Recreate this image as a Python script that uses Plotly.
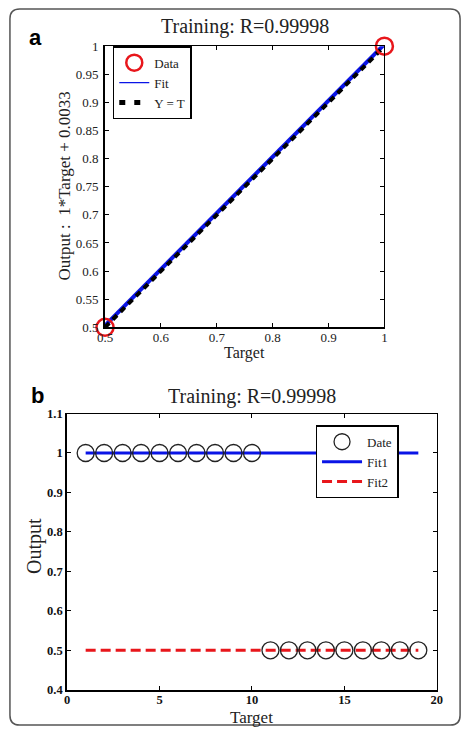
import plotly.graph_objects as go

W, H = 469, 735

def X(px):
    return px / W

def Y(py):
    return 1 - py / H

# ---------------- data ----------------
# panel a
a_data_target = [0.5, 1.0]
a_data_output = [0.5, 1.0]
a_fit_target = [0.5, 1.0]
a_fit_output = [0.5033, 1.0033]
a_yt_target = [0.5, 1.0]
a_yt_output = [0.5, 1.0]
a_xticks = [0.5, 0.6, 0.7, 0.8, 0.9, 1.0]
a_yticks = [0.5, 0.55, 0.6, 0.65, 0.7, 0.75, 0.8, 0.85, 0.9, 0.95, 1.0]

# panel b
b_target = [1, 2, 3, 4, 5, 6, 7, 8, 9, 10, 11, 12, 13, 14, 15, 16, 17, 18, 19]
b_output = [1, 1, 1, 1, 1, 1, 1, 1, 1, 1, 0.5, 0.5, 0.5, 0.5, 0.5, 0.5, 0.5, 0.5, 0.5]
b_fit1_x = [1, 19]
b_fit1_y = [1, 1]
b_fit2_x = [1, 19]
b_fit2_y = [0.5, 0.5]
b_xticks = [0, 5, 10, 15, 20]
b_yticks = [0.4, 0.5, 0.6, 0.7, 0.8, 0.9, 1.0, 1.1]

SERIF = "Liberation Serif"
BLUE = "#0a14e6"
RED = "#e8161b"

fig = go.Figure()

# ---- panel a traces ----
fig.add_trace(go.Scatter(x=a_fit_target, y=a_fit_output, mode="lines", name="Fit",
                         line=dict(color=BLUE, width=4), showlegend=False,
                         xaxis="x", yaxis="y", cliponaxis=False))
fig.add_trace(go.Scatter(x=a_yt_target, y=a_yt_output, mode="lines", name="Y = T",
                         line=dict(color="black", width=4, dash="6px,5px"), showlegend=False,
                         xaxis="x", yaxis="y", cliponaxis=False))
fig.add_trace(go.Scatter(x=a_data_target, y=a_data_output, mode="markers", name="Data",
                         marker=dict(symbol="circle-open", size=17, color=RED,
                                     line=dict(width=2.5, color=RED)),
                         legend="legend", legendrank=1, xaxis="x", yaxis="y", cliponaxis=False))
# legend-only entries (thin line styles as in the reference legend)
fig.add_trace(go.Scatter(x=[None], y=[None], mode="lines", name="Fit",
                         line=dict(color=BLUE, width=1.3), legend="legend", legendrank=2,
                         xaxis="x", yaxis="y"))
fig.add_trace(go.Scatter(x=[None], y=[None], mode="lines", name="Y = T",
                         line=dict(color="black", width=5, dash="6px,9px"), legend="legend",
                         legendrank=3, xaxis="x", yaxis="y"))

# ---- panel b traces ----
fig.add_trace(go.Scatter(x=b_fit1_x, y=b_fit1_y, mode="lines", name="Fit1",
                         line=dict(color=BLUE, width=3), legend="legend2", legendrank=2,
                         xaxis="x2", yaxis="y2"))
fig.add_trace(go.Scatter(x=b_fit2_x, y=b_fit2_y, mode="lines", name="Fit2",
                         line=dict(color=RED, width=3, dash="10px,5px"), legend="legend2",
                         legendrank=3, xaxis="x2", yaxis="y2"))
fig.add_trace(go.Scatter(x=b_target, y=b_output, mode="markers", name="Date",
                         marker=dict(symbol="circle-open", size=17, color="#222",
                                     line=dict(width=1.3, color="#222")),
                         legend="legend2", legendrank=1, xaxis="x2", yaxis="y2", cliponaxis=False))

# helper traces for mirror (top/right) axes
for xa, ya in [("x3", "y"), ("x", "y3"), ("x4", "y2"), ("x2", "y4")]:
    fig.add_trace(go.Scatter(x=[None], y=[None], xaxis=xa, yaxis=ya, showlegend=False,
                             hoverinfo="skip", mode="lines"))

a_xdom = [X(100), X(388)]
a_ydom = [Y(327), Y(40)]
b_xdom = [X(61), X(442)]
b_ydom = [Y(697), Y(415)]

base = dict(showgrid=False, zeroline=False, showline=True, linecolor="black",
            ticks="inside", ticklen=4, tickcolor="black", tickwidth=1)
a_font = dict(family=SERIF, size=13, color="#222")
b_font = dict(family=SERIF, size=12.5, color="#111", weight="bold")

fig.update_layout(
    width=W, height=H, margin=dict(l=0, r=0, t=0, b=0),
    paper_bgcolor="white", plot_bgcolor="white",
    xaxis=dict(base, domain=a_xdom, range=[0.5, 1.0], anchor="y", tickvals=a_xticks,
               linewidth=2, tickfont=a_font, ticklabelstandoff=-3),
    yaxis=dict(base, domain=a_ydom, range=[0.5, 1.0], anchor="x", tickvals=a_yticks,
               linewidth=2, tickfont=a_font, ticklabelstandoff=2),
    xaxis3=dict(base, overlaying="x", side="top", anchor="y", range=[0.5, 1.0],
                tickvals=a_xticks, showticklabels=False, linewidth=1),
    yaxis3=dict(base, overlaying="y", side="right", anchor="x", range=[0.5, 1.0],
                tickvals=a_yticks, showticklabels=False, linewidth=1),
    xaxis2=dict(base, domain=b_xdom, range=[0, 20], anchor="y2", tickvals=b_xticks,
                linewidth=2, tickfont=b_font, ticklabelstandoff=-3),
    yaxis2=dict(base, domain=b_ydom, range=[0.4, 1.1], anchor="x2", tickvals=b_yticks,
                linewidth=2, tickfont=b_font),
    xaxis4=dict(base, overlaying="x2", side="top", anchor="y2", range=[0, 20],
                tickvals=b_xticks, showticklabels=False, linewidth=1),
    yaxis4=dict(base, overlaying="y2", side="right", anchor="x2", range=[0.4, 1.1],
                tickvals=b_yticks, showticklabels=False, linewidth=1),
    legend=dict(x=X(108), y=Y(40), xanchor="left", yanchor="top", bgcolor="white",
                bordercolor="black", borderwidth=1.5, font=dict(family=SERIF, size=13, color="#222"),
                tracegroupgap=0, itemwidth=30),
    legend2=dict(x=X(317), y=Y(427), xanchor="left", yanchor="top", bgcolor="white",
                 bordercolor="black", borderwidth=1.5, font=dict(family=SERIF, size=13, color="#222"),
                 tracegroupgap=0, itemwidth=40),
    showlegend=True,
)

ann = [
    dict(text="a", x=X(28), y=Y(31), font=dict(family="Liberation Sans", size=22, color="black", weight="bold")),
    dict(text="b", x=X(30), y=Y(397), font=dict(family="Liberation Sans", size=22, color="black", weight="bold")),
    dict(text="Training: R=0.99998", x=X(244), y=Y(20), font=dict(family=SERIF, size=20, color="#222")),
    dict(text="Training: R=0.99998", x=X(251), y=Y(398), font=dict(family=SERIF, size=20, color="#222")),
    dict(text="Target", x=X(244), y=Y(353), font=dict(family=SERIF, size=16, color="#222")),
    dict(text="Target", x=X(251), y=Y(725), font=dict(family=SERIF, size=17, color="#222")),
    dict(text="Output :  1*Target + 0.0033", x=X(58), y=Y(183), textangle=-90,
         font=dict(family=SERIF, size=17, color="#222")),
    dict(text="Output", x=X(28), y=Y(550), textangle=-90, font=dict(family=SERIF, size=20, color="#222")),
]
for a in ann:
    a.update(xref="paper", yref="paper", showarrow=False, xanchor="center", yanchor="middle")
fig.update_layout(annotations=ann)

# rounded outer frame
x0, x1, y0, y1, r = 2, 466, 2, 733, 10
path = (f"M {X(x0 + r)} {Y(y0)} L {X(x1 - r)} {Y(y0)} Q {X(x1)} {Y(y0)} {X(x1)} {Y(y0 + r)} "
        f"L {X(x1)} {Y(y1 - r)} Q {X(x1)} {Y(y1)} {X(x1 - r)} {Y(y1)} "
        f"L {X(x0 + r)} {Y(y1)} Q {X(x0)} {Y(y1)} {X(x0)} {Y(y1 - r)} "
        f"L {X(x0)} {Y(y0 + r)} Q {X(x0)} {Y(y0)} {X(x0 + r)} {Y(y0)} Z")
fig.add_shape(type="path", path=path, xref="paper", yref="paper",
              line=dict(color="#555", width=1.5), layer="above")

fig.write_html("out.html")
